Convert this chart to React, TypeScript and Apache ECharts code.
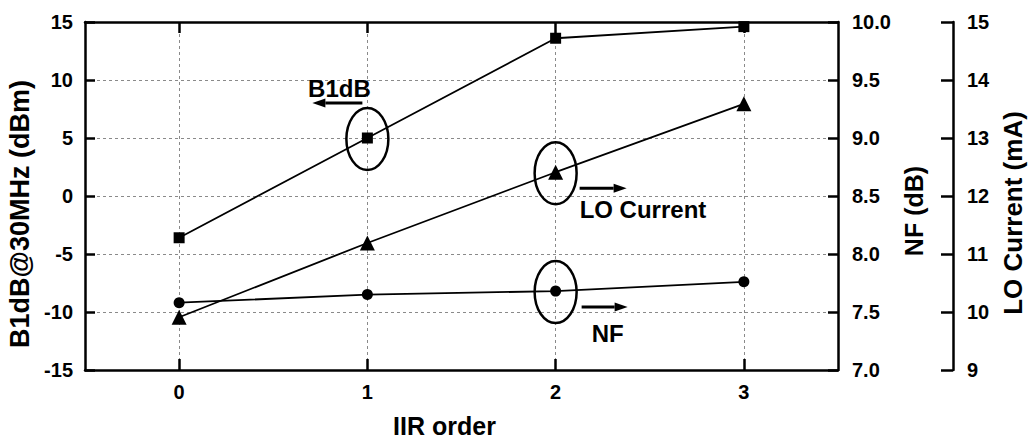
import { useEffect, useRef } from "react";
import * as echarts from "echarts";

// ---- data ----
const iirOrder = ["0", "1", "2", "3"];
const b1dB = [-3.6, 5.0, 13.6, 14.6]; // dBm, left axis
const noiseFigure = [7.58, 7.65, 7.68, 7.76]; // dB, NF axis
const loCurrent = [9.91, 11.19, 12.41, 13.59]; // mA, LO axis

const leftRange = [-15, 15];
const leftStep = 5;
const nfRange = [7, 10];
const nfStep = 0.5;
const loRange = [9, 15];
const loStep = 1;

const FONT = "'Liberation Sans', Arial, Helvetica, sans-serif";

export default function App() {
  const ref = useRef<HTMLDivElement>(null);

  useEffect(() => {
    const chart = echarts.init(ref.current!, null, { renderer: "svg" });
    const axisLine = { show: true, onZero: false, lineStyle: { color: "#000", width: 2.5 } };
    const tickLine = { color: "#000", width: 2.5 };
    const tickLabel = { color: "#000", fontSize: 20, fontWeight: "bold", fontFamily: FONT };
    const titleStyle = { color: "#000", fontSize: 25, fontWeight: "bold", fontFamily: FONT };
    const gridLine = { type: [3, 3], color: "#8a8a8a", width: 1 };

    chart.setOption({
      animation: false,
      backgroundColor: "#ffffff",
      grid: { left: 85, right: 191, top: 22, bottom: 68, containLabel: false, outerBoundsMode: "none" },
      xAxis: [
        {
          type: "category",
          data: iirOrder,
          position: "bottom",
          boundaryGap: true,
          name: "IIR order",
          nameLocation: "middle",
          nameGap: 43,
          nameTextStyle: { ...titleStyle, padding: [0, 34, 0, 0] },
          axisLine,
          axisTick: { show: true, inside: true, alignWithLabel: true, length: 11, lineStyle: tickLine },
          axisLabel: { ...tickLabel, margin: 12, interval: 0 },
          splitLine: { show: true, alignWithLabel: true, interval: 0, lineStyle: gridLine },
        },
        {
          type: "category",
          data: iirOrder,
          position: "top",
          boundaryGap: true,
          axisLine,
          axisTick: { show: true, inside: true, alignWithLabel: true, length: 11, lineStyle: tickLine },
          axisLabel: { show: false },
          splitLine: { show: false },
        },
      ],
      yAxis: [
        {
          type: "value",
          position: "left",
          min: leftRange[0],
          max: leftRange[1],
          interval: leftStep,
          name: "B1dB@30MHz (dBm)",
          nameLocation: "middle",
          nameRotate: 90,
          nameGap: 50,
          nameTextStyle: { ...titleStyle, fontSize: 27, padding: [0, 36, 0, 0] },
          axisLine,
          axisTick: { show: true, inside: true, length: 10, lineStyle: tickLine },
          axisLabel: { ...tickLabel, margin: 12 },
          splitLine: { show: true, showMinLine: false, showMaxLine: false, lineStyle: gridLine },
        },
        {
          type: "value",
          position: "right",
          offset: 0,
          min: nfRange[0],
          max: nfRange[1],
          interval: nfStep,
          name: "NF (dB)",
          nameLocation: "middle",
          nameRotate: 90,
          nameGap: 56,
          nameTextStyle: { ...titleStyle, padding: [0, 30, 0, 0] },
          axisLine,
          axisTick: { show: true, inside: true, length: 10, lineStyle: tickLine },
          axisLabel: { ...tickLabel, margin: 14, formatter: (v: number) => v.toFixed(1) },
          splitLine: { show: false },
        },
        {
          type: "value",
          position: "right",
          offset: 115,
          min: loRange[0],
          max: loRange[1],
          interval: loStep,
          name: "LO Current (mA)",
          nameLocation: "middle",
          nameRotate: 90,
          nameGap: 47,
          nameTextStyle: { ...titleStyle, fontSize: 26, padding: [0, 34, 0, 0] },
          axisLine,
          axisTick: { show: true, inside: true, length: 12, lineStyle: tickLine },
          axisLabel: { ...tickLabel, margin: 14 },
          splitLine: { show: false },
        },
      ],
      series: [
        {
          name: "B1dB",
          type: "line",
          xAxisIndex: 0,
          yAxisIndex: 0,
          data: b1dB,
          symbol: "rect",
          symbolSize: 11,
          itemStyle: { color: "#000" },
          lineStyle: { color: "#000", width: 1.8 },
          z: 5,
        },
        {
          name: "NF",
          type: "line",
          xAxisIndex: 0,
          yAxisIndex: 1,
          data: noiseFigure,
          symbol: "circle",
          symbolSize: 11,
          itemStyle: { color: "#000" },
          lineStyle: { color: "#000", width: 1.8 },
          z: 5,
        },
        {
          name: "LO Current",
          type: "line",
          xAxisIndex: 0,
          yAxisIndex: 2,
          data: loCurrent,
          symbol: "triangle",
          symbolSize: 15,
          itemStyle: { color: "#000" },
          lineStyle: { color: "#000", width: 1.8 },
          z: 5,
        },
      ],
    });

    // annotations positioned from data points through the chart's scales
    const px = (s: number, i: number, v: number) =>
      chart.convertToPixel({ seriesIndex: s }, [i, v]) as number[];
    const pB = px(0, 1, b1dB[1]);
    const pNF = px(1, 2, noiseFigure[2]);
    const pLO = px(2, 2, loCurrent[2]);

    const ellipse = (p: number[]) => ({
      type: "ellipse",
      shape: { cx: p[0], cy: p[1] + 1, rx: 21, ry: 31 },
      style: { fill: "none", stroke: "#000", lineWidth: 2.5 },
      z: 20,
    });
    const arrow = (xFrom: number, xTo: number, y: number) => {
      const dir = xTo > xFrom ? 1 : -1;
      const head = 13;
      return [
        {
          type: "line",
          shape: { x1: xFrom, y1: y, x2: xTo - dir * head, y2: y },
          style: { stroke: "#000", lineWidth: 3 },
          z: 20,
        },
        {
          type: "polygon",
          shape: { points: [[xTo, y], [xTo - dir * head, y - 4.5], [xTo - dir * head, y + 4.5]] },
          style: { fill: "#000" },
          z: 20,
        },
      ];
    };
    const label = (text: string, x: number, y: number, align: string) => ({
      type: "text",
      x,
      y,
      style: {
        text,
        fontSize: 24,
        fontWeight: "bold",
        fontFamily: FONT,
        fill: "#000",
        align,
        textAlign: align,
        verticalAlign: "middle",
        textVerticalAlign: "middle",
      },
      z: 20,
    });

    chart.setOption({
      graphic: [
        ellipse(pB),
        ...arrow(pB[0] - 5, pB[0] - 55, pB[1] - 35),
        label("B1dB", pB[0] - 28, pB[1] - 50, "center"),
        ellipse(pLO),
        ...arrow(pLO[0] + 24, pLO[0] + 71, pLO[1] + 16),
        label("LO Current", pLO[0] + 24, pLO[1] + 37, "left"),
        ellipse(pNF),
        ...arrow(pNF[0] + 26, pNF[0] + 72, pNF[1] + 16),
        label("NF", pNF[0] + 36, pNF[1] + 42, "left"),
      ],
    });

    return () => chart.dispose();
  }, []);

  return (
    <div
      ref={ref}
      style={{ position: "fixed", left: 0, top: 0, width: 1029, height: 438, background: "#fff" }}
    />
  );
}
